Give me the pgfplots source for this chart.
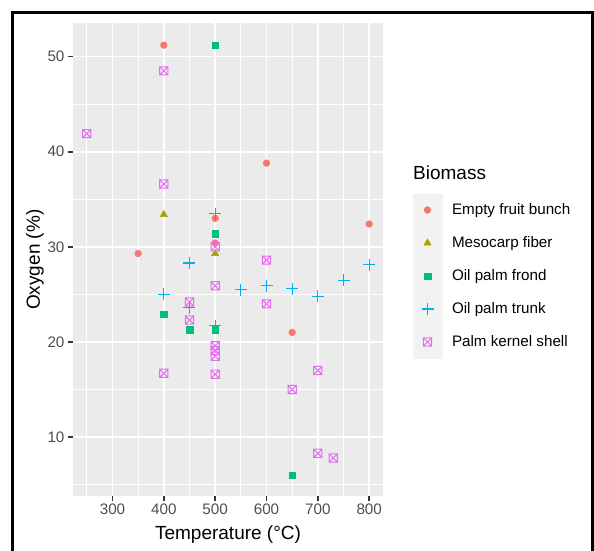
\documentclass[border=0pt]{standalone}
\usepackage{fontspec}
\setmainfont{Liberation Sans}
\usepackage{pgfplots}
\pgfplotsset{compat=1.18}
\definecolor{ggbg}{HTML}{EBEBEB}
\definecolor{efb}{HTML}{F8766D}
\definecolor{mf}{HTML}{A3A500}
\definecolor{opf}{HTML}{00BF7D}
\definecolor{opt}{HTML}{00B0F6}
\definecolor{pks}{HTML}{E76BF3}
\definecolor{gtick}{HTML}{333333}
\definecolor{glab}{HTML}{4D4D4D}
\definecolor{keybg}{HTML}{F2F2F2}
\pgfdeclareplotmark{boxx}{%
  \pgfpathrectangle{\pgfqpoint{-\pgfplotmarksize}{-\pgfplotmarksize}}{\pgfqpoint{2\pgfplotmarksize}{2\pgfplotmarksize}}%
  \pgfpathmoveto{\pgfqpoint{-\pgfplotmarksize}{-\pgfplotmarksize}}%
  \pgfpathlineto{\pgfqpoint{\pgfplotmarksize}{\pgfplotmarksize}}%
  \pgfpathmoveto{\pgfqpoint{-\pgfplotmarksize}{\pgfplotmarksize}}%
  \pgfpathlineto{\pgfqpoint{\pgfplotmarksize}{-\pgfplotmarksize}}%
  \pgfusepathqstroke}
\begin{document}
\begin{tikzpicture}[x=1pt,y=1pt]
\fill[keybg] (412.5,-193.5) rectangle (442.5,-358.5);
\begin{axis}[
  at={(72.7pt,-496pt)}, anchor=south west,
  scale only axis, width=310.6pt, height=472.7pt,
  xmin=222.5, xmax=827.5, ymin=3.8, ymax=53.5,
  axis background/.style={fill=ggbg},
  axis line style={draw=none},
  xtick={300,400,...,800}, ytick={10,20,...,50},
  minor xtick={250,350,...,750}, minor ytick={5,15,...,45},
  grid=both,
  major grid style={white, line width=1.8pt},
  minor grid style={white, line width=0.9pt},
  xtick pos=bottom, ytick pos=left,
  tick align=outside,
  major tick length=4.75pt, minor tick length=0pt,
  tick style={gtick, line width=1.8pt},
  /pgf/number format/assume math mode=true,
  ticklabel style={font=\fontsize{15.2}{18}\selectfont, text=glab},
  every axis x label/.style={at={(axis description cs:0.5,-0.0825)}, anchor=center, font=\fontsize{19}{22}\selectfont},
  every axis y label/.style={at={(axis description cs:-0.1214,0.5)}, rotate=90, anchor=center, font=\fontsize{19}{22}\selectfont},
  xlabel={Temperature (°C)},
  ylabel={Oxygen (\%)},
  legend style={at={(1.123,0.6399)}, anchor=north west, draw=none, fill=none,
    inner sep=0pt, outer sep=0pt, row sep=0pt,
    font=\fontsize{15.2}{18}\selectfont,
    nodes={inner sep=0pt, minimum height=33pt, anchor=west},
    /tikz/every odd column/.append style={column sep=18.5pt}},
  legend cell align=left,
]
\addplot[only marks, mark=*, color=efb, mark size=3.4pt] coordinates {
(400,51.2) (350,29.3) (500,33.0) (500,30.4) (600,38.8) (650,21.0) (800,32.4)};
\addlegendentry{Empty fruit bunch}
\addplot[only marks, mark=triangle*, color=mf, mark size=4.2pt] coordinates {
(400,33.4) (500,29.3)};
\addlegendentry{Mesocarp fiber}
\addplot[only marks, mark=square*, color=opf, mark size=3.3pt] coordinates {
(500,51.2) (400,22.9) (450,21.3) (500,31.4) (500,21.3) (650,6.0)};
\addlegendentry{Oil palm frond}
\addplot[only marks, mark=+, color=opt, mark size=6pt, mark options={line width=1.1pt}] coordinates {
(400,25.0) (450,28.3) (450,23.6) (500,33.5) (500,21.7) (550,25.5) (600,25.9) (650,25.6) (700,24.8) (750,26.5) (800,28.1)};
\addlegendentry{Oil palm trunk}
\addplot[only marks, mark=boxx, color=pks, mark size=4.1pt, mark options={line width=1pt}] coordinates {
(250,41.9) (400,48.5) (400,36.6) (400,16.7) (450,24.2) (450,22.3) (500,30.0) (500,25.9) (500,19.6) (500,19.1) (500,18.5) (500,16.6) (600,28.6) (600,24.0) (650,15.0) (700,17.0) (700,8.3) (730,7.8)};
\addlegendentry{Palm kernel shell}
\end{axis}
\node[anchor=west, inner sep=0pt, font=\fontsize{19}{22}\selectfont] at (413,-173) {Biomass};
\draw[line width=3pt] (12.5,-570) -- (12.5,-12.5) -- (592,-12.5) -- (592,-570);
\pgfresetboundingbox
\useasboundingbox (0,0) rectangle (594,-550);
\end{tikzpicture}
\end{document}
